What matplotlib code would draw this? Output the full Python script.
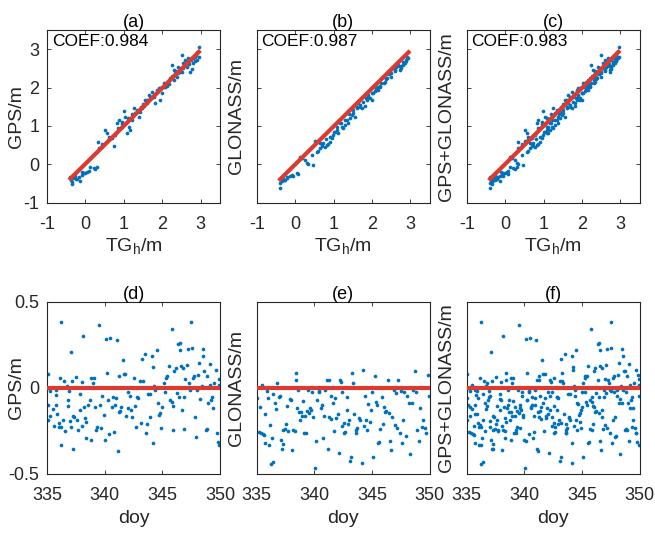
import matplotlib
matplotlib.use("Agg")
import matplotlib.pyplot as plt

plt.rcParams['font.family'] = ['Liberation Sans', 'DejaVu Sans']
plt.rcParams['axes.unicode_minus'] = False

# ---- (a) GPS vs TG_h ----
tg_gps = [-0.394, -0.368, -0.351, -0.308, -0.265, -0.221, -0.178, -0.135, -0.091, -0.048,
          -0.005, 0.039, 0.082, 0.125, 0.212, 0.255, 0.298, 0.324, 0.342, 0.428,
          0.515, 0.558, 0.601, 0.688, 0.731, 0.774, 0.818, 0.861, 0.904, 0.948,
          0.991, 1.034, 1.077, 1.121, 1.164, 1.207, 1.251, 1.294, 1.337, 1.381,
          1.424, 1.467, 1.510, 1.554, 1.597, 1.640, 1.684, 1.727, 1.770, 1.813,
          1.857, 1.900, 1.943, 1.987, 2.030, 2.073, 2.116, 2.160, 2.203, 2.246,
          2.290, 2.333, 2.376, 2.419, 2.463, 2.506, 2.549, 2.593, 2.636, 2.679,
          2.722, 2.766, 2.809, 2.852, 2.896, 2.956,
          1.95, 2.05, 2.12, 2.18, 2.25, 2.35, 2.42, 2.48, 2.55, 2.62,
          2.70, 2.75, 2.80, 2.85, 2.88, 2.58, 1.60, 1.70, 1.50, 1.45,
          1.20, 1.10, 0.95, 0.85, 0.60, 0.40, -0.30, -0.25, -0.35, -0.10,
          2.30, 2.50, 2.95, 2.90]
gps = [-0.323, -0.410, -0.514, -0.366, -0.306, -0.393, -0.323, -0.427, -0.279, -0.219,
       -0.236, -0.193, -0.166, -0.062, -0.106, -0.132, -0.062, 0.590, 0.416, 0.529,
       0.894, 0.807, 0.651, 0.677, 0.477, 0.764, 1.068, 1.155, 0.938, 1.112,
       1.399, 1.242, 0.807, 0.981, 0.894, 1.155, 1.460, 1.329, 1.416, 1.242,
       1.373, 1.460, 1.521, 1.677, 1.590, 1.807, 1.721, 1.894, 1.764, 1.590,
       1.938, 1.981, 1.677, 1.851, 2.112, 2.025, 2.155, 2.199, 2.242, 2.590,
       2.460, 2.373, 2.286, 2.547, 2.416, 2.851, 2.634, 2.721, 2.547, 2.764,
       2.416, 2.477, 2.634, 2.807, 2.721, 3.068,
       2.00, 2.02, 2.05, 2.10, 2.30, 2.42, 2.38, 2.52, 2.50, 2.68,
       2.62, 2.72, 2.78, 2.70, 2.85, 2.58, 1.68, 1.76, 1.58, 1.50,
       1.30, 1.20, 1.05, 0.95, 0.70, 0.45, -0.30, -0.38, -0.45, -0.20,
       2.20, 2.40, 2.80, 2.92]

# ---- (b) GLONASS vs TG_h ----
tg_glo = [-0.394, -0.394, -0.351, -0.308, -0.265, -0.221, -0.135, -0.091, -0.048, 0.039,
          0.082, 0.125, 0.168, 0.255, 0.298, 0.342, 0.428, 0.471, 0.515, 0.558,
          0.601, 0.645, 0.688, 0.731, 0.774, 0.818, 0.861, 0.904, 0.948, 0.991,
          1.034, 1.077, 1.121, 1.164, 1.207, 1.251, 1.294, 1.337, 1.381, 1.424,
          1.467, 1.510, 1.554, 1.597, 1.640, 1.684, 1.727, 1.770, 1.813, 1.857,
          1.900, 1.943, 1.987, 2.030, 2.073, 2.116, 2.160, 2.203, 2.246, 2.290,
          2.333, 2.376, 2.419, 2.463, 2.506, 2.549, 2.593, 2.636, 2.679, 2.722,
          2.766, 2.809, 2.852, 2.896, 2.939,
          1.90, 2.00, 2.10, 2.20, 2.30, 2.40, 2.50, 2.60, 2.70, 2.80,
          2.88, 2.92, 1.70, 1.60, 1.50, 1.40, 1.30, 1.20, 1.10, 1.00,
          0.90, 0.80, 0.70, 0.65, -0.30, -0.20, 2.45, 2.75, 2.15, 1.85]
glo = [-0.627, -0.480, -0.427, -0.393, -0.410, -0.366, -0.297, -0.279, -0.306, -0.236,
       -0.254, 0.199, 0.155, 0.112, 0.025, 0.008, 0.242, -0.019, 0.616, 0.329,
       0.355, 0.416, 0.477, 0.547, 0.460, 0.503, 0.529, 0.590, 0.677, 0.764,
       0.851, 0.894, 0.807, 1.068, 0.981, 0.938, 1.025, 1.155, 1.068, 1.199,
       1.286, 1.416, 1.242, 1.460, 1.590, 1.486, 1.460, 1.634, 1.521, 1.677,
       1.807, 1.721, 1.677, 1.868, 1.921, 1.981, 1.938, 2.025, 2.112, 2.268,
       2.155, 2.216, 2.373, 2.442, 2.286, 2.503, 2.460, 2.547, 2.590, 2.460,
       2.564, 2.677, 2.634, 2.721, 2.764,
       1.75, 1.85, 1.95, 2.05, 2.12, 2.25, 2.38, 2.42, 2.55, 2.60,
       2.70, 2.80, 1.55, 1.50, 1.35, 1.30, 1.15, 1.08, 0.98, 0.85,
       0.72, 0.65, 0.52, 0.55, -0.40, -0.32, 2.35, 2.52, 2.02, 1.72]

# fitted lines (end points)
fit_x = [-0.39, 2.95]
fit_gps = [-0.37, 2.93]
fit_glo = [-0.39, 2.92]
fit_all = [-0.38, 2.93]
coef = ['0.984', '0.987', '0.983']

# ---- (d) GPS residuals vs doy ----
doy_gps = [335.06, 335.10, 335.10, 335.05, 335.30, 335.30, 335.50, 335.60, 335.75, 335.75,
           335.80, 335.90, 336.00, 336.05, 336.15, 336.20, 336.25, 336.25, 336.40, 336.50,
           336.55, 336.70, 336.80, 336.85, 336.90, 337.00, 337.05, 337.10, 337.20, 337.25,
           337.35, 337.25, 337.55, 337.60, 337.70, 337.85, 337.90, 338.00, 338.05, 338.15,
           338.20, 338.30, 338.35, 338.40, 338.55, 338.70, 338.80, 338.85, 338.95, 339.05,
           339.15, 339.25, 339.35, 339.50, 339.60, 339.65, 339.80, 339.90, 340.00, 340.15,
           340.20, 340.25, 340.40, 340.50, 340.60, 340.70, 340.80, 340.90, 340.95, 341.05,
           341.15, 341.20, 341.25, 341.35, 341.45, 341.55, 341.65, 341.75, 341.85, 342.00,
           342.05, 342.20, 342.25, 342.40, 342.55, 342.60, 342.70, 342.80, 342.90, 343.05,
           343.15, 343.20, 343.30, 343.50, 343.60, 343.65, 343.75, 343.90, 343.95, 344.10,
           344.15, 344.20, 344.30, 344.40, 344.50, 344.60, 344.75, 344.80, 344.90, 345.00,
           345.10, 345.25, 345.30, 345.40, 345.55, 345.65, 345.80, 345.85, 345.90, 345.95,
           346.05, 346.15, 346.25, 346.35, 346.45, 346.50, 346.55, 346.60, 346.70, 346.75,
           346.85, 346.90, 347.00, 347.10, 347.20, 347.30, 347.40, 347.50, 347.55, 347.65,
           347.75, 347.85, 347.90, 348.00, 348.10, 348.20, 348.30, 348.40, 348.50, 348.55,
           348.60, 348.75, 348.85, 348.90, 349.00, 349.10, 349.15, 349.25, 349.30, 349.40,
           349.50, 349.65, 349.70, 349.80, 349.90, 349.95, 349.95]
res_gps = [0.083, 0.000, -0.100, -0.185, -0.020, -0.165, -0.120, -0.220, -0.010, -0.100,
           -0.040, -0.150, -0.205, -0.225, 0.057, 0.383, -0.225, -0.330, -0.185, 0.038,
           -0.250, 0.010, -0.105, -0.070, -0.015, -0.190, -0.225, 0.207, 0.040, -0.160,
           -0.170, -0.355, 0.063, -0.185, -0.245, -0.127, -0.034, 0.034, -0.220, 0.300,
           -0.108, -0.175, -0.290, -0.200, -0.100, -0.070, -0.300, 0.057, 0.028, 0.057,
           -0.108, -0.245, -0.225, 0.368, -0.100, -0.230, -0.045, -0.155, -0.305, 0.286,
           0.090, -0.070, -0.267, 0.290, -0.112, -0.053, -0.253, -0.098, -0.060, 0.280,
           -0.364, -0.137, 0.070, -0.133, -0.108, 0.164, 0.083, 0.083, -0.162, -0.117,
           -0.024, -0.045, -0.127, -0.166, 0.057, -0.104, -0.224, -0.053, -0.060, 0.038,
           -0.205, 0.170, 0.043, 0.197, -0.260, -0.210, -0.034, -0.166, -0.036, 0.184,
           -0.318, 0.121, 0.009, -0.010, 0.222, -0.088, -0.155, -0.147, -0.233, -0.110,
           0.028, -0.026, 0.057, 0.067, 0.129, -0.069, 0.343, -0.079, -0.245, -0.104,
           0.096, 0.116, -0.030, 0.257, -0.050, 0.261, 0.222, 0.125, -0.127, 0.116,
           -0.240, -0.053, 0.051, 0.135, 0.226, 0.028, -0.010, 0.383, 0.232, 0.057,
           0.070, -0.166, -0.283, -0.010, 0.077, 0.145, -0.065, 0.009, 0.226, 0.184,
           0.100, -0.245, -0.240, 0.067, -0.088, 0.140, 0.018, -0.069, -0.050, -0.117,
           0.028, 0.106, -0.263, -0.312, 0.051, -0.330, 0.018]

# ---- (e) GLONASS residuals vs doy ----
doy_glo = [335.00, 335.29, 335.17, 335.35, 335.46, 335.52, 335.66, 335.75, 335.69, 335.92,
           336.01, 336.10, 336.15, 336.21, 336.30, 336.38, 336.44, 336.56, 336.67, 336.79,
           336.90, 337.02, 337.08, 337.16, 337.25, 337.31, 337.45, 337.54, 337.60, 337.74,
           337.88, 337.97, 338.06, 338.17, 338.29, 338.40, 338.43, 338.52, 338.61, 338.69,
           338.75, 338.84, 338.92, 339.01, 339.10, 339.21, 339.27, 339.38, 339.47, 339.56,
           339.61, 339.70, 339.76, 339.85, 340.05, 340.13, 340.25, 340.36, 340.42, 340.54,
           340.65, 340.77, 340.83, 340.94, 341.06, 341.14, 341.23, 341.29, 341.40, 341.46,
           341.58, 341.69, 341.81, 341.92, 342.04, 342.10, 342.21, 342.33, 342.38, 342.44,
           342.53, 342.61, 342.70, 342.79, 342.85, 342.93, 343.02, 343.13, 343.15, 343.25,
           343.36, 343.45, 343.57, 343.65, 343.74, 343.83, 343.94, 344.11, 344.23, 344.32,
           344.40, 344.52, 344.60, 344.69, 344.81, 344.92, 345.04, 345.12, 345.24, 345.33,
           345.44, 345.56, 345.61, 345.73, 345.85, 345.96, 346.05, 346.16, 346.25, 346.36,
           346.48, 346.57, 346.65, 346.77, 346.88, 346.97, 347.06, 347.17, 347.29, 347.40,
           347.52, 347.63, 347.69, 347.81, 347.92, 348.07, 348.21, 348.33, 348.44, 348.56,
           348.70, 348.79, 348.93, 349.08, 349.19, 349.31, 349.42, 349.57, 349.71, 349.83,
           349.94]
res_glo = [-0.059, -0.112, -0.257, -0.259, 0.018, -0.268, -0.276, -0.150, -0.317, -0.017,
           -0.059, -0.330, -0.215, -0.444, -0.291, -0.429, -0.034, -0.088, -0.123, 0.028,
           -0.053, -0.045, -0.300, -0.352, -0.325, -0.244, -0.240, -0.209, -0.104, -0.249,
           -0.065, -0.069, -0.360, -0.244, -0.248, 0.044, 0.088, -0.117, -0.011, -0.137,
           -0.185, -0.142, -0.162, -0.073, -0.263, -0.162, -0.259, -0.131, -0.011, -0.146,
           -0.117, -0.127, -0.026, -0.170, -0.463, -0.306, -0.069, -0.026, -0.015, -0.117,
           -0.098, -0.288, -0.162, -0.011, 0.047, -0.357, 0.044, -0.170, -0.045, -0.181,
           -0.090, -0.248, -0.059, -0.175, -0.152, -0.379, 0.044, 0.032, -0.026, -0.221,
           -0.259, -0.201, -0.253, -0.127, -0.050, -0.209, -0.185, -0.422, -0.400, 0.090,
           0.028, -0.150, -0.244, -0.259, -0.234, -0.175, -0.189, -0.437, 0.106, -0.220,
           -0.045, -0.189, -0.244, -0.092, -0.195, -0.127, -0.026, -0.403, 0.067, -0.079,
           -0.098, -0.321, -0.312, -0.240, -0.053, -0.209, -0.112, -0.142, -0.131, 0.044,
           -0.146, -0.306, -0.360, -0.170, -0.011, -0.215, -0.030, -0.234, 0.044, -0.259,
           -0.020, -0.321, -0.189, -0.026, -0.282, -0.045, -0.088, -0.385, -0.088, -0.011,
           0.100, -0.026, -0.244, -0.306, -0.117, -0.224, -0.189, -0.230, -0.263, 0.076,
           -0.045]

blue = '#0072BD'
red = '#DC3A2E'
axcol = '#262626'

fig = plt.figure(figsize=(6.55, 5.36), dpi=100)
lefts = [0.0718, 0.3919, 0.7125]
w = 0.2641

top_data = [(tg_gps, gps, fit_gps, 'GPS/m', '(a)'),
            (tg_glo, glo, fit_glo, 'GLONASS/m', '(b)'),
            (tg_gps + tg_glo, gps + glo, fit_all, 'GPS+GLONASS/m', '(c)')]
bot_data = [(doy_gps, res_gps, 'GPS/m', '(d)'),
            (doy_glo, res_glo, 'GLONASS/m', '(e)'),
            (doy_gps + doy_glo, res_gps + res_glo, 'GPS+GLONASS/m', '(f)')]


def style(ax, first, ylab):
    ax.tick_params(direction='in', top=True, right=True, colors=axcol,
                   labelsize=13, length=3, width=0.6)
    ax.tick_params(axis='x', pad=9.5)
    ax.tick_params(axis='y', pad=5.5, labelleft=first)
    ax.set_ylabel(ylab, color=axcol, fontsize=14)
    # right edge of the y label, in axes fraction
    ax.yaxis.set_label_coords(-0.127 if first else -0.066, 0.5)
    for s in ax.spines.values():
        s.set_color(axcol)
        s.set_linewidth(0.8)


for i in range(3):
    x, y, fy, yl, t = top_data[i]
    ax = fig.add_axes([lefts[i], 0.6218, w, 0.3222])
    ax.scatter(x, y, s=7, color=blue, linewidths=0, zorder=2)
    ax.plot(fit_x, fy, color=red, lw=3, zorder=3)
    ax.set_xlim(-1, 3.5)
    ax.set_ylim(-1, 3.5)
    ax.set_xticks([-1, 0, 1, 2, 3])
    ax.set_yticks([-1, 0, 1, 2, 3])
    ax.set_xlabel('TG$_\\mathregular{h}$/m', color=axcol, fontsize=14, labelpad=3)
    ax.set_title(t, fontsize=13, pad=2.5, color='black')
    ax.text(-0.88, 3.2, 'COEF:' + coef[i], va='center', ha='left', fontsize=12.5)
    style(ax, i == 0, yl)

for i in range(3):
    x, y, yl, t = bot_data[i]
    ax = fig.add_axes([lefts[i], 0.1157, w, 0.3209])
    ax.scatter(x, y, s=7, color=blue, linewidths=0, zorder=2)
    ax.axhline(0, color=red, lw=3, zorder=3)
    ax.set_xlim(335, 350)
    ax.set_ylim(-0.5, 0.5)
    ax.set_xticks([335, 340, 345, 350])
    ax.set_yticks([-0.5, 0, 0.5])
    ax.set_yticklabels(['-0.5', '0', '0.5'])
    ax.set_xlabel('doy', color=axcol, fontsize=14, labelpad=4)
    ax.set_title(t, fontsize=13, pad=2.5, color='black')
    style(ax, i == 0, yl)

fig.savefig('out.png', dpi=100)
